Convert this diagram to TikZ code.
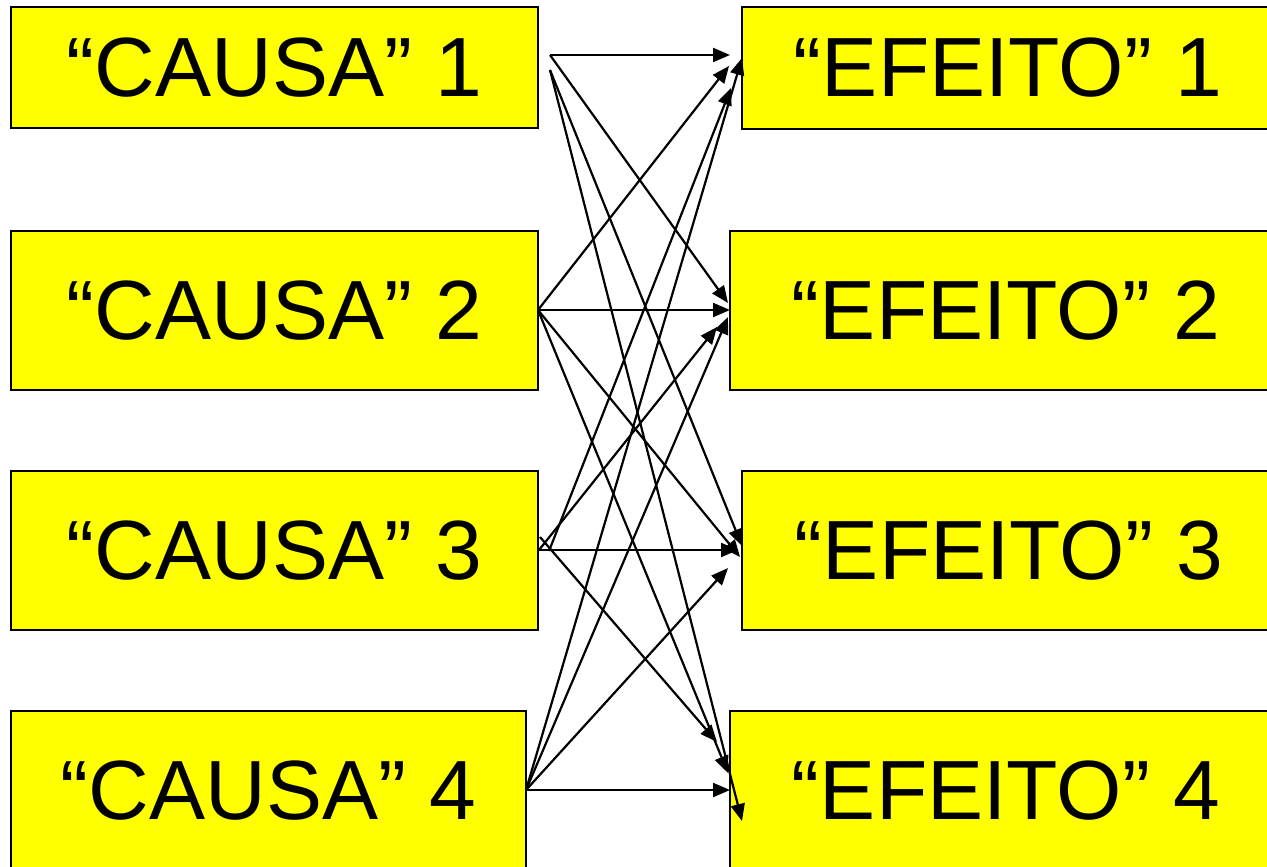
\documentclass[tikz,border=0pt]{standalone}
\usepackage{fontspec}
\setmainfont{Liberation Sans}
\usepackage{xcolor}
\usepackage{tikz}
\usetikzlibrary{arrows.meta}
\definecolor{boxyellow}{HTML}{FFFF00}
\tikzstyle{causebox} = [rectangle, draw=black, line width=0.022cm, fill=boxyellow, text=black, inner sep=0pt, font=\fontsize{23.9}{28}\selectfont]
\tikzstyle{effectbox} = [causebox]
\tikzstyle{arrow} = [line width=0.022cm, -{Triangle[length=0.17cm, width=0.14cm]}, color=black]

\begin{document}
\begin{tikzpicture}[x=0.01cm, y=-0.01cm]
    \useasboundingbox (0,0) rectangle (1267,867);

    \node[causebox, minimum width=5.27cm, minimum height=1.21cm] (c1) at (274.5,67.5) {“CAUSA” 1};
    \node[causebox, minimum width=5.27cm, minimum height=1.59cm] (c2) at (274.5,310.5) {“CAUSA” 2};
    \node[causebox, minimum width=5.27cm, minimum height=1.59cm] (c3) at (274.5,550.5) {“CAUSA” 3};
    \node[causebox, minimum width=5.15cm, minimum height=1.60cm] (c4) at (268.5,791) {“CAUSA” 4};

    \node[effectbox, minimum width=5.32cm, minimum height=1.22cm] (e1) at (1008,68) {“EFEITO” 1};
    \node[effectbox, minimum width=5.52cm, minimum height=1.59cm] (e2) at (1006,310.5) {“EFEITO” 2};
    \node[effectbox, minimum width=5.34cm, minimum height=1.59cm] (e3) at (1009,550.5) {“EFEITO” 3};
    \node[effectbox, minimum width=5.52cm, minimum height=1.60cm] (e4) at (1006,791) {“EFEITO” 4};

    % where the arrows leave the causes
    \coordinate (c1o1) at (550,55);
    \coordinate (c1o2) at (550,70);
    \coordinate (c2o) at (538,310);
    \coordinate (c3o) at (539,550);
    \coordinate (c3o1) at (549,551);
    \coordinate (c3o4) at (540,537);
    \coordinate (c4o) at (526,790);

    % where they reach the effects
    \coordinate (e1i1) at (730,55);
    \coordinate (e1i2) at (729,66);
    \coordinate (e1i3) at (731,88);
    \coordinate (e1i4) at (742,58);
    \coordinate (e2i1) at (728,303);
    \coordinate (e2i2) at (730,310);
    \coordinate (e2i3) at (717,327);
    \coordinate (e2i4) at (728,317);
    \coordinate (e3i1) at (742,546);
    \coordinate (e3i2) at (740,557);
    \coordinate (e3i3) at (738,550);
    \coordinate (e3i4) at (728,568);
    \coordinate (e4i1) at (742,821);
    \coordinate (e4i2) at (728,773);
    \coordinate (e4i3) at (717,742);
    \coordinate (e4i4) at (730,790);

    \foreach \from/\to in {c1o1/e1i1, c1o1/e2i1, c1o2/e3i1, c1o2/e4i1,
                           c2o/e1i2, c2o/e2i2, c2o/e3i2, c2o/e4i2,
                           c3o1/e1i3, c3o/e2i3, c3o/e3i3, c3o4/e4i3,
                           c4o/e1i4, c4o/e2i4, c4o/e3i4, c4o/e4i4}
        \draw[arrow] (\from) -- (\to);
\end{tikzpicture}
\end{document}
